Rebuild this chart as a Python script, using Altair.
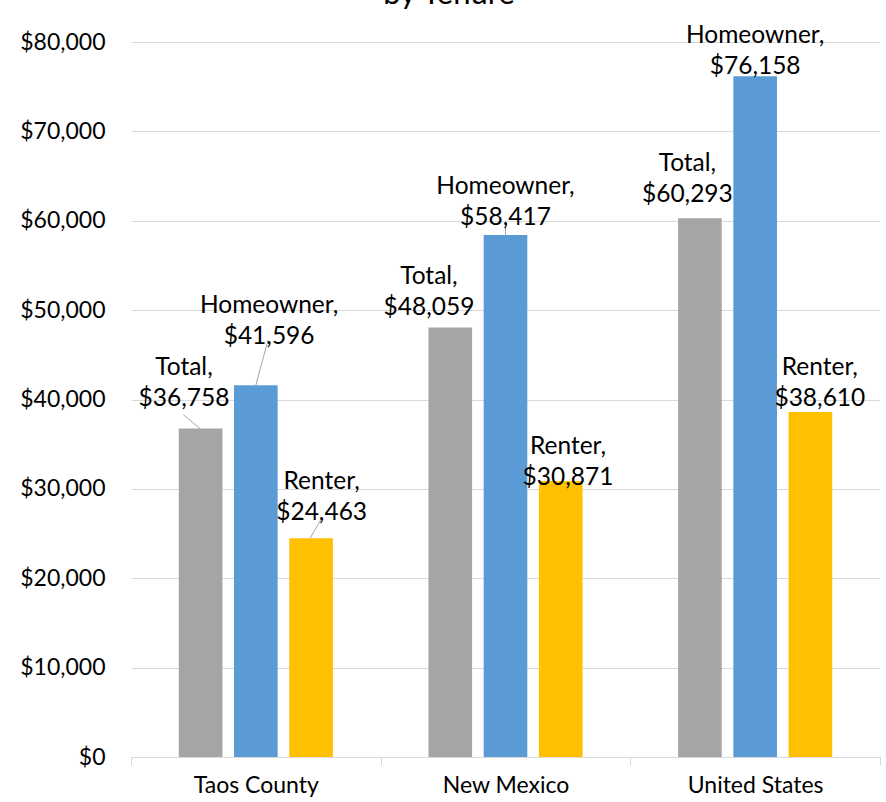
import altair as alt
import pandas as pd

groups = ["Taos County", "New Mexico", "United States"]
series = ["Total", "Homeowner", "Renter"]
total = [36758, 48059, 60293]
homeowner = [41596, 58417, 76158]
renter = [24463, 30871, 38610]
colors = ["#A5A5A5", "#5B9BD5", "#FFC000"]
y_ticks = [0, 10000, 20000, 30000, 40000, 50000, 60000, 70000, 80000]

# label placement (as in the source): vertical anchor in dollars, horizontal in bar slots from group centre
label_anchor_total = [43500, 53700, 66300]
label_anchor_home = [50500, 63800, 80700]
label_anchor_renter = [30800, 34700, 43500]
label_slot_total = [-1.30, -1.385, -1.226]
label_slot_home = [0.24, 0.0, 0.0]
label_slot_renter = [1.19, 1.13, 1.17]

# leader lines: group, from (slot, $) to (slot, $)
leader_group = ["Taos County", "Taos County", "Taos County", "New Mexico"]
leader_from_slot = [-1.31, 0.22, 1.19, 0.0]
leader_from_val = [38300, 46650, 26700, 59900]
leader_to_slot = [-1.01, 0.0, 0.98, 0.0]
leader_to_val = [36758, 41596, 24463, 58417]

values = {"Total": total, "Homeowner": homeowner, "Renter": renter}
anchors = {"Total": label_anchor_total, "Homeowner": label_anchor_home, "Renter": label_anchor_renter}
slots = {"Total": label_slot_total, "Homeowner": label_slot_home, "Renter": label_slot_renter}

bar_rows, label_rows = [], []
for s in series:
    for i, g in enumerate(groups):
        v = values[s][i]
        bar_rows.append({"group": g, "series": s, "value": v})
        label_rows.append({"group": g, "series": s, "text": f"{s},\n${v:,}",
                           "anchor": anchors[s][i], "slot": slots[s][i]})
bar_df = pd.DataFrame(bar_rows)
label_df = pd.DataFrame(label_rows)

leader_rows = []
for k in range(len(leader_group)):
    leader_rows.append({"id": k, "group": leader_group[k], "slot": leader_from_slot[k], "value": leader_from_val[k]})
    leader_rows.append({"id": k, "group": leader_group[k], "slot": leader_to_slot[k], "value": leader_to_val[k]})
leader_df = pd.DataFrame(leader_rows)

W, H = 749, 715
FONT = "Lato"

xenc = alt.X("group:N", title=None,
             scale=alt.Scale(domain=groups, paddingInner=0, paddingOuter=0))
yscale = alt.Scale(domain=[0, 80000])
yaxis = alt.Axis(values=y_ticks, format="$,.0f")
slot_scale = alt.Scale(domain=[-2.2577, 2.2577], range=[0, W / 3])

bars = alt.Chart(bar_df).mark_bar().encode(
    x=xenc,
    xOffset=alt.XOffset("series:N", sort=series,
                        scale=alt.Scale(domain=series, paddingInner=0.21, paddingOuter=0.865)),
    y=alt.Y("value:Q", title=None, scale=yscale, axis=yaxis),
    color=alt.Color("series:N", scale=alt.Scale(domain=series, range=colors), legend=None),
)

leaders = alt.Chart(leader_df).mark_line(color="#A6A6A6", strokeWidth=1).encode(
    x=xenc,
    xOffset=alt.XOffset("slot:Q", scale=slot_scale),
    y=alt.Y("value:Q", title=None, scale=yscale, axis=yaxis),
    detail="id:N",
)

labels = alt.Chart(label_df).mark_text(
    font=FONT, fontSize=24.5, lineBreak="\n", lineHeight=31,
    baseline="middle", align="center", color="black"
).encode(
    x=xenc,
    xOffset=alt.XOffset("slot:Q", scale=slot_scale),
    y=alt.Y("anchor:Q", title=None, scale=yscale, axis=yaxis),
    text="text:N",
)

title_df = pd.DataFrame({"t": ["by Tenure"]})
title = alt.Chart(title_df).mark_text(
    font=FONT, fontSize=31, baseline="alphabetic", align="center", color="black"
).encode(text="t:N", x=alt.value(318), y=alt.value(-38))

chart = alt.layer(bars, leaders, labels, title).resolve_scale(
    xOffset="independent"
).properties(
    width=W, height=H, autosize="none",
    padding={"left": 131, "top": 42, "right": 6, "bottom": 45},
    background="white",
).configure_view(stroke=None).configure_axisX(
    labelFont=FONT, labelFontSize=23, labelColor="black", labelPadding=9,
    domainColor="#D9D9D9", tickColor="#D9D9D9", tickSize=8, tickBand="extent",
    labelAngle=0, grid=False,
).configure_axisY(
    labelFont=FONT, labelFontSize=23, labelColor="black", labelPadding=26,
    domain=False, ticks=False, gridColor="#D9D9D9", gridWidth=1,
)

chart.save("out.html", embed_options={"renderer": "svg", "actions": False})
